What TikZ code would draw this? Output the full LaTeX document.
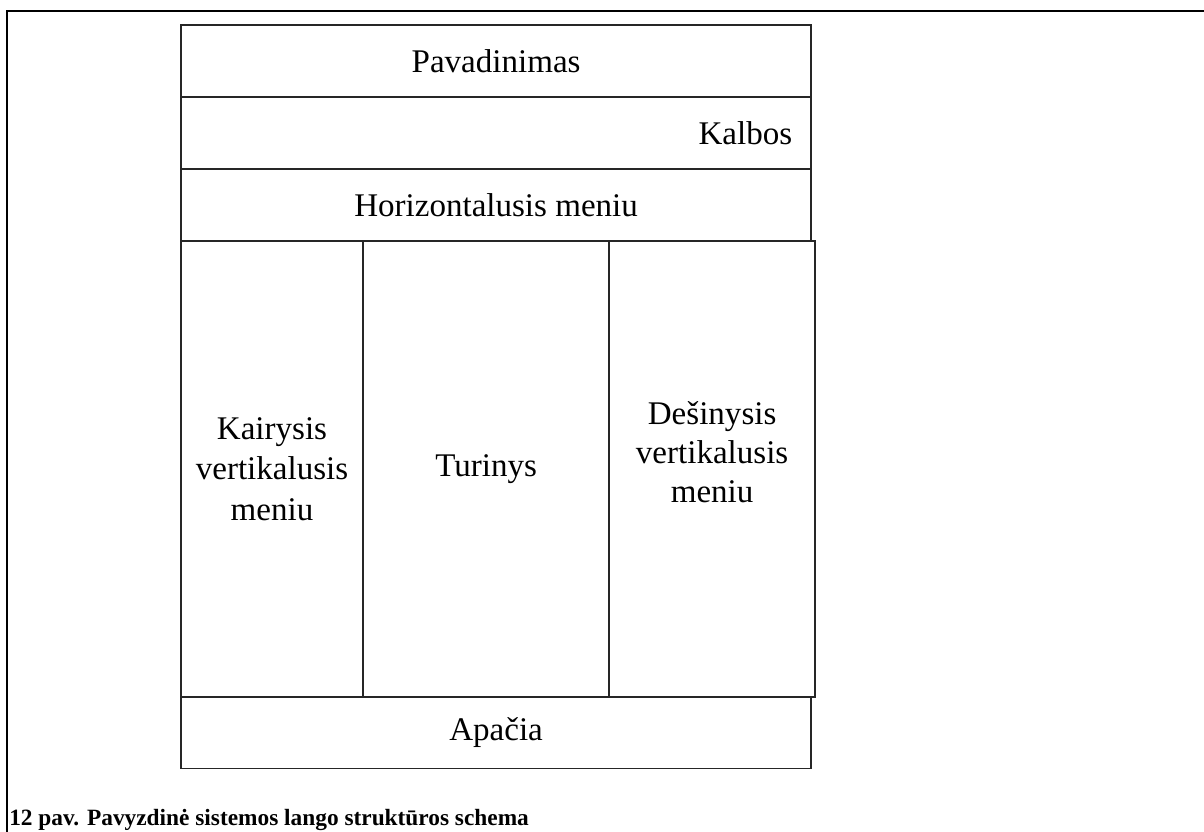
\documentclass[tikz,border=0pt]{standalone}
\usepackage{fontspec}
\setmainfont{Liberation Serif}
\usepackage{tikz}
\usetikzlibrary{positioning}

\begin{document}
\begin{tikzpicture}[
  x=0.025cm, y=-0.025cm,
  node distance=0pt,
  cell/.style={rectangle, draw=black!85, line width=1pt, inner sep=0pt, outer sep=0pt,
               align=center, font=\fontsize{23.5}{29}\selectfont},
  row/.style={cell, minimum width=15.75cm, minimum height=1.8cm},
  col/.style={cell, minimum height=11.4cm}
]
\useasboundingbox (0,0) rectangle (1204,832);
% outer frame
\draw[line width=1.4pt] (7,840) -- (7,11) -- (1210,11);

\node[row, anchor=north west] (title) at (181,25) {Pavadinimas};
\node[row, below=of title, text width=14.8cm, align=right] (kalbos) {Kalbos};
\node[row, below=of kalbos] (hmenu) {Horizontalusis meniu};
\node[col, minimum width=4.55cm, below=of hmenu.south west, anchor=north west] (kairys)
  {Kairysis\\vertikalusis\\meniu};
\node[col, minimum width=6.15cm, right=of kairys] (turinys) {Turinys};
\node[col, minimum width=5.15cm, right=of turinys, text depth=0.85cm,
      font=\fontsize{23.5}{27.5}\selectfont] (desinys)
  {Dešinysis\\vertikalusis\\meniu};
\node[row, minimum height=1.78cm, below=of kairys.south west, anchor=north west] (apacia) {Apačia};

\node[anchor=base west, inner sep=0pt, font=\fontsize{16.6}{20}\selectfont\bfseries] (caption) at (9,825)
  {12 pav. Pavyzdinė sistemos lango struktūros schema};
\end{tikzpicture}
\end{document}
